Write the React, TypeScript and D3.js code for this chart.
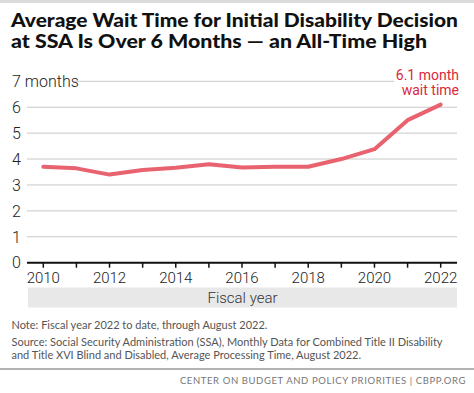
import React from "react";
import * as d3 from "d3";

const years = [2010, 2011, 2012, 2013, 2014, 2015, 2016, 2017, 2018, 2019, 2020, 2021, 2022];
const waitMonths = [3.7, 3.64, 3.4, 3.58, 3.66, 3.8, 3.67, 3.7, 3.7, 4.0, 4.38, 5.5, 6.1];
const yTicks = [0, 1, 2, 3, 4, 5, 6, 7];
const xTickLabels = [2010, 2012, 2014, 2016, 2018, 2020, 2022];
const titleLines = [
  "Average Wait Time for Initial Disability Decision",
  "at SSA Is Over 6 Months \u2014 an All-Time High",
];
const noteLines = [
  "Note: Fiscal year 2022 to date, through August 2022.",
  "Source: Social Security Administration (SSA), Monthly Data for Combined Title II Disability",
  "and Title XVI Blind and Disabled, Average Processing Time, August 2022.",
];

export default function App() {
  const W = 474, H = 393;
  const x = d3.scaleLinear().domain([2010, 2022]).range([43.3, 440.7]);
  const y = d3.scaleLinear().domain([0, 7]).range([262.7, 81.3]);
  const line = d3.line<number>().x((_, i) => x(years[i])).y((d) => y(d)).curve(d3.curveLinear);
  const font = "Roboto, 'Open Sans', sans-serif";
  return (
    <svg width={W} height={H} style={{ position: "absolute", left: 0, top: 0, background: "#fff" }}>
      <rect x={0} y={0} width={W} height={3} fill="#dcdcdc" />
      {titleLines.map((t, i) => (
        <text key={i} x={11} y={26.5 + i * 21} fontFamily="Lato, 'Open Sans', sans-serif" fontWeight={900}
          fontSize={19.5} fill="#111" textLength={i === 0 ? 447 : 416} lengthAdjust="spacingAndGlyphs">{t}</text>
      ))}
      {yTicks.map((v) => (
        <line key={v} x1={v === 7 ? 74 : 27} x2={v === 7 ? 394 : 457} y1={y(v)} y2={y(v)}
          stroke={v === 0 ? "#111" : "#c8c8c8"} strokeWidth={v === 0 ? 2 : 1} />
      ))}
      {yTicks.map((v) => (
        <text key={v} x={12} y={y(v)} dy="0.36em" fontFamily={font} fontSize={16} fill="#222" fontWeight={300}>
          {v === 7 ? "7 months" : String(v)}
        </text>
      ))}
      {years.map((yr) => (
        <line key={yr} x1={x(yr)} x2={x(yr)} y1={y(0)} y2={y(0) + 5} stroke="#111" strokeWidth={1.5} />
      ))}
      {xTickLabels.map((yr) => (
        <text key={yr} x={x(yr)} y={283} textAnchor="middle" fontFamily={font} fontSize={15} fill="#222" fontWeight={300}>
          {yr}
        </text>
      ))}
      <rect x={28} y={287.5} width={429} height={20} fill="#e8e8e8" />
      <text x={242.5} y={303} textAnchor="middle" fontFamily={font} fontSize={15} fill="#333" fontWeight={300}>Fiscal year</text>
      <path d={line(waitMonths) || ""} fill="none" stroke="#e8636f" strokeWidth={4} strokeLinejoin="round" strokeLinecap="round" />
      <text x={459} y={80} textAnchor="end" fontFamily={font} fontSize={14} fill="#d9283c">6.1 month</text>
      <text x={459} y={95} textAnchor="end" fontFamily={font} fontSize={14} fill="#d9283c">wait time</text>
      {noteLines.map((t, i) => (
        <text key={i} x={11.5} y={329 + (i === 0 ? 0 : 17 + (i - 1) * 12.5)} fontFamily="Lato, 'Open Sans', sans-serif"
          fontSize={11} fill="#555">{t}</text>
      ))}
      <line x1={0} x2={W} y1={369} y2={369} stroke="#999" strokeWidth={1.5} />
      <text x={466} y={384} textAnchor="end" fontFamily="Lato, 'Open Sans', sans-serif" fontSize={9.5} fill="#777" letterSpacing={0.6}>
        CENTER ON BUDGET AND POLICY PRIORITIES | CBPP.ORG
      </text>
    </svg>
  );
}
